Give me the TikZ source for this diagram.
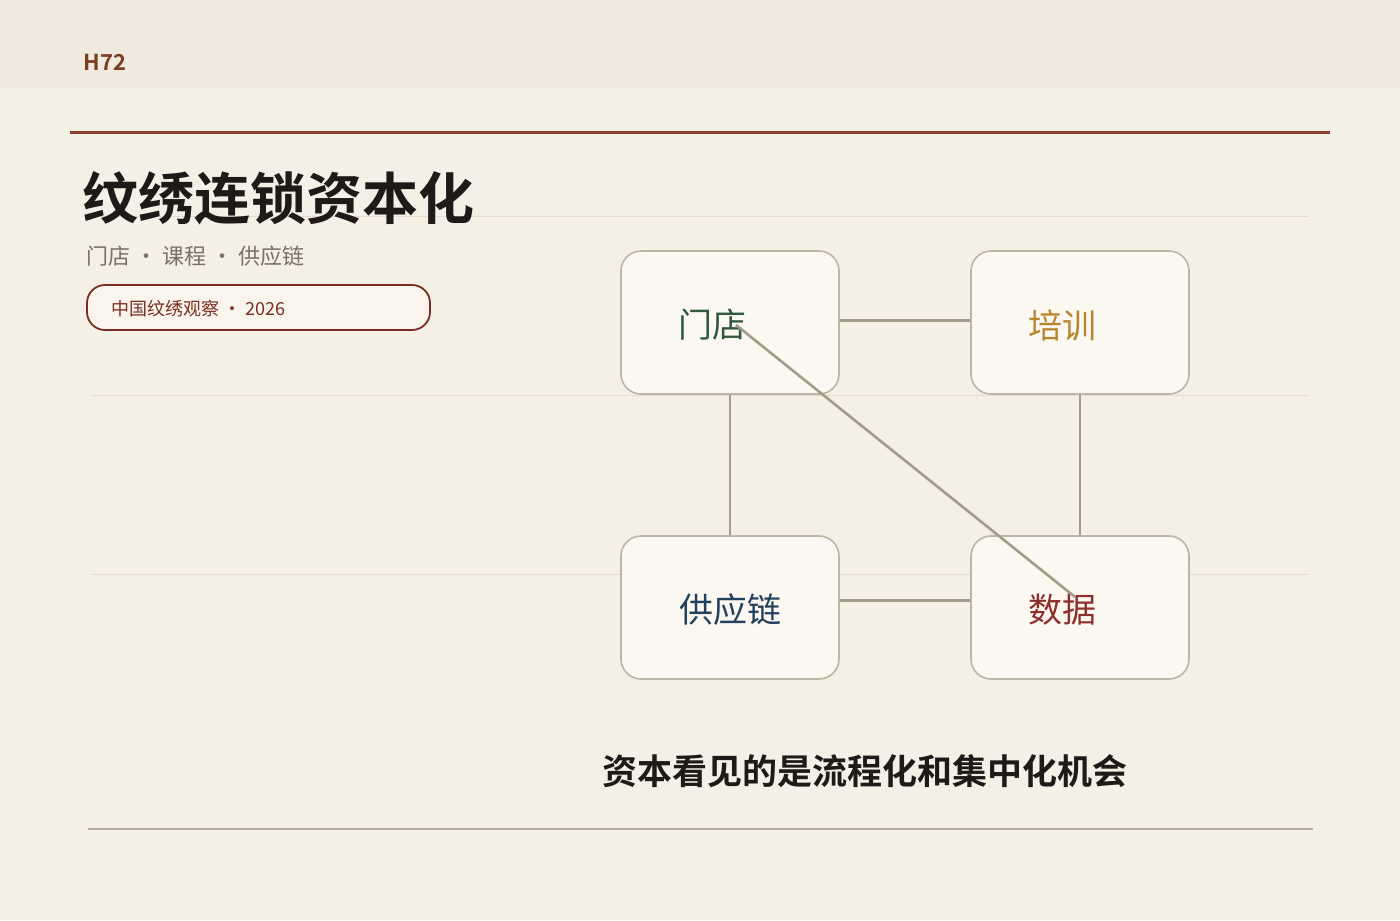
\documentclass[tikz,border=0pt]{standalone}
\usepackage{fontspec}
\setmainfont{Noto Sans CJK SC}
\newfontfamily\cjkb{Noto Sans CJK SC}[BoldFont={* Bold}]
\usetikzlibrary{positioning}
\definecolor{bg}{HTML}{F5F0E6}
\definecolor{band}{HTML}{EFE9DF}
\definecolor{brown}{HTML}{7A3E22}
\definecolor{rule}{HTML}{8B3F2A}
\definecolor{faint}{HTML}{E3DCCF}
\definecolor{ink}{HTML}{1F1A17}
\definecolor{sub}{HTML}{7A7068}
\definecolor{pill}{HTML}{7A2E22}
\definecolor{boxfill}{HTML}{FBF8F1}
\definecolor{boxline}{HTML}{BDB5A6}
\definecolor{conn}{HTML}{A39C88}
\definecolor{cg}{HTML}{2F5A3C}
\definecolor{cy}{HTML}{B8862F}
\definecolor{cb}{HTML}{23405F}
\definecolor{cr}{HTML}{8E2E2A}
\definecolor{bot}{HTML}{B5AD9D}
\begin{document}
\begin{tikzpicture}[x=0.5pt,y=-0.5pt,
  card/.style={draw=boxline,line width=0.8pt,fill=boxfill,rounded corners=10pt,minimum width=109pt,minimum height=71.5pt,inner sep=0},
  lab/.style={font=\fontsize{17}{20}\selectfont},
  link/.style={draw=conn,line width=1.3pt}]
\fill[bg] (0,0) rectangle (1400,920);
\useasboundingbox (0,0) rectangle (1400,920);
\fill[band] (0,0) rectangle (1400,88);
\node[anchor=west,text=brown,font=\cjkb\bfseries\fontsize{11}{13}\selectfont,inner sep=0] (h) at (83,62) {H72};
\draw[rule,line width=1.5pt] (70,132) -- (1330,132);
\foreach \yy in {216,395,574} \draw[faint,line width=0.5pt] (92,\yy) -- (1308,\yy);
\node[anchor=west,text=ink,font=\cjkb\bfseries\fontsize{28}{32}\selectfont,inner sep=0] (t) at (82,198) {纹绣连锁资本化};
\node[anchor=west,text=sub,font=\fontsize{11}{13}\selectfont,inner sep=0] (s) at (86,256) {门店 · 课程 · 供应链};
\draw[pill,line width=0.9pt,fill=boxfill!60!bg,rounded corners=9pt] (87,285) rectangle (430,330);
\node[anchor=west,text=pill,font=\fontsize{9}{11}\selectfont,inner sep=0] (p) at (111,309) {中国纹绣观察 · 2026};
\node[card] (a) at (730,322.5) {};
\node[card] (b) at (1080,322.5) {};
\node[card] (c) at (730,607.5) {};
\node[card] (d) at (1080,607.5) {};
\draw[link] ([yshift=1pt]a.east) -- ([yshift=1pt]b.west);
\draw[link] ([yshift=3.5pt]c.east) -- ([yshift=3.5pt]d.west);
\draw[link] (a.south) -- (c.north);
\draw[link] (b.south) -- (d.north);
\node[lab,text=cg] (ta) at (712,325) {门店};
\node[lab,text=cy] (tb) at (1062,325) {培训};
\node[lab,text=cb] (tc) at (730,610) {供应链};
\node[lab,text=cr] (td) at (1062,610) {数据};
\coordinate (p1) at (736,325);
\coordinate (p2) at (1075,597);
\draw[link] (p1) -- (p2);
\node[text=ink,font=\cjkb\bfseries\fontsize{17.5}{20}\selectfont] (cap) at (865,771) {资本看见的是流程化和集中化机会};
\draw[bot,line width=0.8pt] (88,829) -- (1313,829);
\end{tikzpicture}
\end{document}
